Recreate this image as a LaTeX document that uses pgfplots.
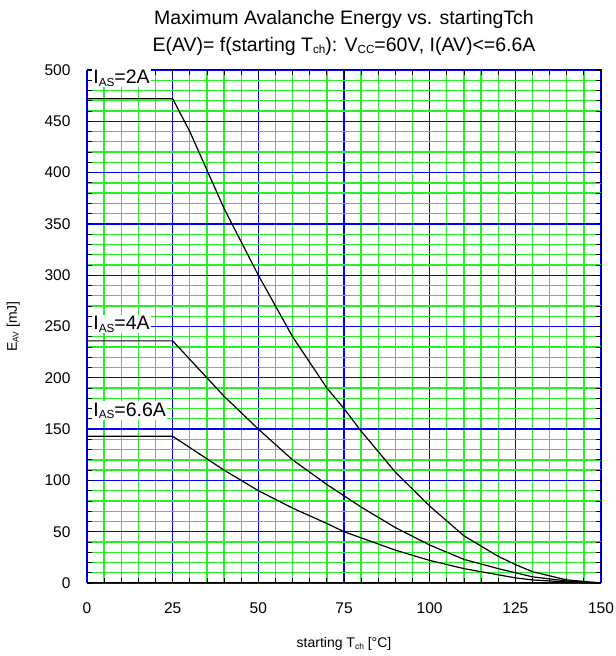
\documentclass[border=0pt]{standalone}
\usepackage{pgfplots}
\pgfplotsset{compat=1.18}
\usepackage{fontspec}
\setmainfont{Liberation Sans}
\definecolor{mgreen}{RGB}{40,240,40}
\definecolor{mblue}{RGB}{0,0,255}
\newcommand{\sub}[1]{\raisebox{-0.25ex}{\fontsize{0.6em}{0.6em}\selectfont #1}}
\begin{document}
\begin{tikzpicture}
\begin{axis}[
  scale only axis,
  width=514pt, height=513pt,
  xmin=0, xmax=150, ymin=0, ymax=500,
  xtick={0,25,...,150}, ytick={0,50,...,500},
  minor x tick num=4, minor y tick num=4,
  grid=both,
  major grid style={draw=mblue, line width=1.3pt},
  minor grid style={draw=mgreen, line width=1.3pt},
  axis line style={black, line width=1pt},
  tick align=inside,
  major tick length=5pt, minor tick length=5pt,
  major tick style={draw=black, line width=0.8pt},
  minor tick style={draw=black, line width=0.8pt},
  /pgf/number format/assume math mode=true,
  ticklabel style={font=\fontsize{15.5}{16}\selectfont},
  xticklabel style={yshift=-16pt},
  yticklabel style={xshift=-13pt},
  xlabel={starting T\sub{ch} [°C]},
  ylabel={E\sub{AV} [mJ]},
  label style={font=\fontsize{14}{15}\selectfont},
  xlabel style={yshift=-17pt},
  ylabel style={yshift=18pt},
  title style={font=\fontsize{19.5}{27}\selectfont, align=center, yshift=5pt},
  title={Maximum Avalanche Energy vs. startingTch\\E(AV)= f(starting T\sub{ch}): V\sub{CC}=60V, I(AV)<=6.6A},
  clip=false,
]
\addplot[black, line width=1.2pt] coordinates {
(0,472) (25,472) (30,440) (40,365) (50,300) (60,240) (70,190) (75,170) (80,148) (90,108) (100,75) (110,46) (120,26) (125,18) (130,11) (140,3) (150,0)};
\addplot[black, line width=1.2pt] coordinates {
(0,236) (25,236) (30,218) (40,182) (50,150) (60,120) (70,96) (75,85) (80,74) (90,54) (100,37) (110,23) (120,14) (125,10) (130,6) (140,2) (150,0)};
\addplot[black, line width=1.2pt] coordinates {
(0,143) (25,143) (30,132) (40,110) (50,90) (60,73) (70,58) (75,50) (80,44) (90,32) (100,22) (110,14) (120,8) (125,5) (130,3) (140,1) (150,0)};
\node[anchor=west, fill=white, inner sep=1pt, font=\fontsize{19.5}{20}\selectfont] at (axis cs:1.5,492) {I\sub{AS}=2A};
\node[anchor=west, fill=white, inner sep=1pt, font=\fontsize{19.5}{20}\selectfont] at (axis cs:1.5,252) {I\sub{AS}=4A};
\node[anchor=west, fill=white, inner sep=1pt, font=\fontsize{19.5}{20}\selectfont] at (axis cs:1.5,168) {I\sub{AS}=6.6A};
\coordinate (bl) at (rel axis cs:0,0);
\coordinate (tr) at (rel axis cs:1,1);
\end{axis}
\pgfresetboundingbox
\path ([xshift=-87pt,yshift=-73pt]bl) rectangle ([xshift=14pt,yshift=70pt]tr);
\end{tikzpicture}
\end{document}
